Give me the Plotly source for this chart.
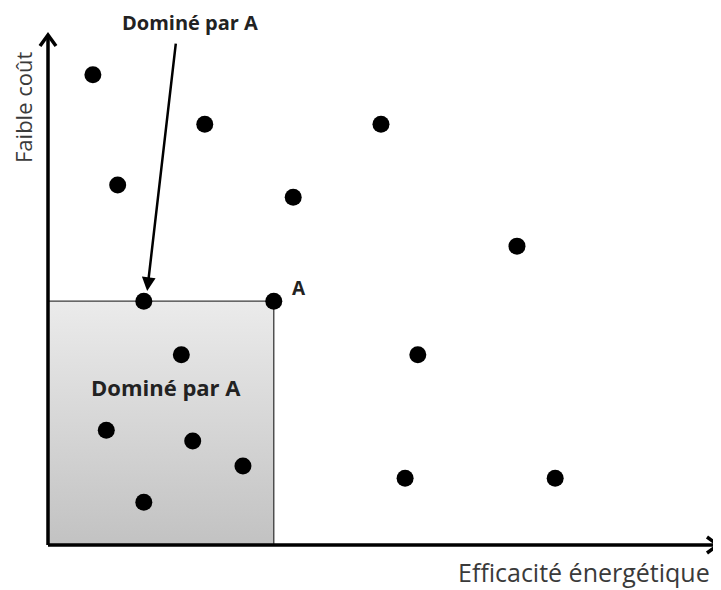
import plotly.graph_objects as go

# ---- data (arbitrary units: x = energy efficiency, y = low cost) ----
point_x = [0.67, 2.34, 4.97, 1.04, 3.66, 7.00, 1.43, 3.37, 1.99, 5.52, 0.87, 2.16, 2.91, 5.33, 7.57, 1.43]
point_y = [9.22, 8.25, 8.25, 7.06, 6.82, 5.86, 4.78, 4.78, 3.73, 3.73, 2.25, 2.04, 1.55, 1.31, 1.31, 0.84]
point_a = (3.37, 4.78)
x_label = "Efficacité énergétique"
y_label = "Faible coût"
dom_label = "Dominé par A"
a_label = "A"

# page has an 8px body margin, so the figure is sized to fit the window
W, H = 713, 582
X_RANGE = [-0.597, 10.045]
Y_RANGE = [-0.882, 10.529]
X_END = 10.0
Y_END = 10.0

def dx(px):
    return px * (X_RANGE[1] - X_RANGE[0]) / W

def dy(px):
    return px * (Y_RANGE[1] - Y_RANGE[0]) / H

fig = go.Figure()

# dominated region (gradient box)
ax_, ay_ = point_a
fig.add_trace(go.Scatter(
    x=[0, ax_, ax_, 0, 0], y=[0, 0, ay_, ay_, 0],
    mode="lines", fill="toself",
    line=dict(color="rgba(0,0,0,0)", width=0),
    fillgradient=dict(type="vertical",
                      colorscale=[[0, "#c2c2c2"], [1, "#ebebeb"]]),
    hoverinfo="skip", showlegend=False,
))
# box top and right edges
fig.add_trace(go.Scatter(
    x=[0, ax_, ax_], y=[ay_, ay_, 0], mode="lines",
    line=dict(color="#3a3a3a", width=1.3),
    hoverinfo="skip", showlegend=False,
))

# axes lines
fig.add_shape(type="line", x0=0, y0=0, x1=X_END, y1=0,
              line=dict(color="black", width=3.5))
fig.add_shape(type="line", x0=0, y0=0, x1=0, y1=Y_END,
              line=dict(color="black", width=3.5))
# chevron arrowheads
fig.add_shape(type="path",
              path=f"M {X_END-dx(11)},{dy(8)} L {X_END},0 L {X_END-dx(11)},{-dy(8)}",
              line=dict(color="black", width=3.5))
fig.add_shape(type="path",
              path=f"M {-dx(8)},{Y_END-dy(11)} L 0,{Y_END} L {dx(8)},{Y_END-dy(11)}",
              line=dict(color="black", width=3.5))

# points
fig.add_trace(go.Scatter(
    x=point_x, y=point_y, mode="markers",
    marker=dict(color="black", size=17, line=dict(width=0)),
    hoverinfo="skip", showlegend=False,
))

FONT = "Open Sans"
annotations = [
    dict(x=(584 - 48) / 67, y=(545 - 572) / 51, text=x_label, showarrow=False,
         font=dict(family=FONT, size=25, color="#3a3a3a"), borderpad=0),
    dict(x=(23 - 48) / 67, y=(545 - 108) / 51, text=y_label, showarrow=False, textangle=-90,
         font=dict(family=FONT, size=22, color="#3a3a3a"), borderpad=0),
    dict(x=(166 - 48) / 67, y=(545 - 387) / 51, text=f"<b>{dom_label}</b>", showarrow=False,
         font=dict(family=FONT, size=22, color="#222"), borderpad=0),
    dict(x=ax_, y=ay_, text=f"<b>{a_label}</b>", showarrow=False, xshift=25, yshift=13,
         font=dict(family=FONT, size=19, color="#222")),
    dict(x=(190 - 48) / 67, y=(545 - 23) / 51, text=f"<b>{dom_label}</b>", showarrow=False,
         font=dict(family=FONT, size=20, color="#222"), borderpad=0),
    dict(x=1.48, y=4.98, ax=1.91, ay=9.86, axref="x", ayref="y",
         text="", showarrow=True, arrowhead=2, arrowsize=1.1, arrowwidth=2.5,
         arrowcolor="black"),
]

fig.update_layout(
    width=W, height=H,
    margin=dict(l=0, r=0, t=0, b=0),
    paper_bgcolor="white", plot_bgcolor="white",
    xaxis=dict(range=X_RANGE, visible=False, fixedrange=True),
    yaxis=dict(range=Y_RANGE, visible=False, fixedrange=True),
    annotations=annotations,
    showlegend=False,
)

fig.write_html("out.html")
